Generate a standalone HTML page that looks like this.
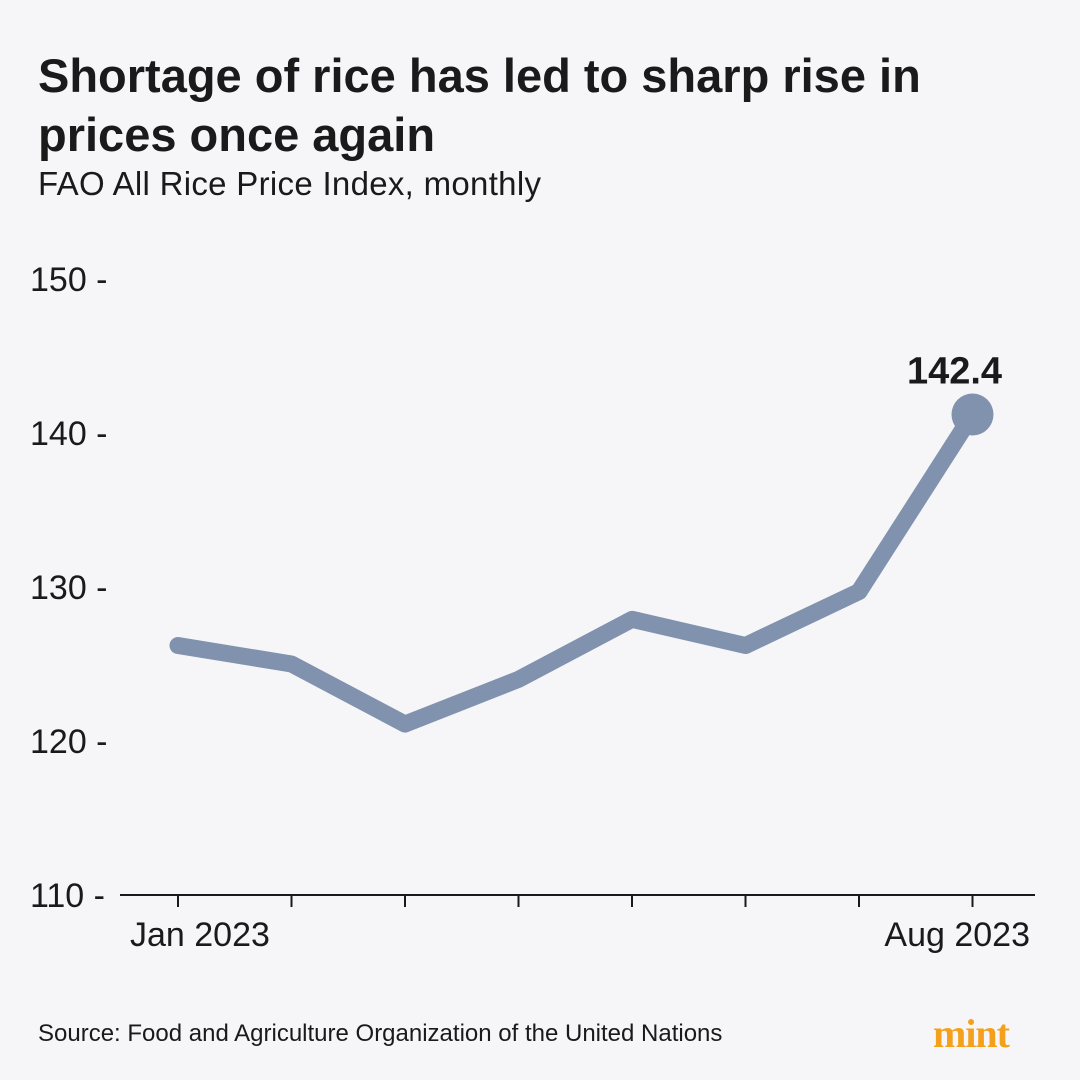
<!DOCTYPE html>
<html><head><meta charset="utf-8"><style>
body{margin:0;width:1080px;height:1080px;background:#f6f6f8;font-family:"Liberation Sans",sans-serif;overflow:hidden;position:relative;color:#1a1a1a}
.t{position:absolute;left:38px;top:46px;font-size:47px;font-weight:bold;line-height:59px;letter-spacing:0px}
.s{position:absolute;left:38px;top:165px;font-size:33px;letter-spacing:0.3px}
.src{position:absolute;left:38px;top:1020px;font-size:24px}
.logo{position:absolute;left:933px;top:1010px;font-size:40px;font-weight:bold;color:#f5a01a;font-family:"Liberation Serif",serif;letter-spacing:-1px}
</style></head><body>
<div class="t">Shortage of rice has led to sharp rise in<br>prices once again</div>
<div class="s">FAO All Rice Price Index, monthly</div>
<svg id="c" width="1080" height="1080" style="position:absolute;left:0;top:0"></svg>
<div class="src">Source: Food and Agriculture Organization of the United Nations</div>
<div class="logo">mint</div>
<script>
const months=["Jan 2023","Feb","Mar","Apr","May","Jun","Jul","Aug 2023"];
const values=[126.2,125.0,121.1,124.0,127.9,126.2,129.7,141.2];
const yTicks=[110,120,130,140,150];
const xLabelIdx=[0,7];
const lastLabel=["142.4"];
const NS="http://www.w3.org/2000/svg",svg=document.getElementById('c');
const x=i=>178+i*113.5, y=v=>895-(v-110)*15.4;
function mk(t,a){const e=document.createElementNS(NS,t);for(const k in a)e.setAttribute(k,a[k]);svg.appendChild(e);return e;}
yTicks.forEach(v=>{const e=mk('text',{x:30,y:y(v)+12,'font-size':34,fill:'#1a1a1a'});e.textContent=v+' -';

});
const ax=mk('line',{x1:120,x2:1035,y1:895,y2:895,stroke:'#1a1a1a','stroke-width':2});


months.forEach((m,i)=>{const t=mk('line',{x1:x(i),x2:x(i),y1:895,y2:907,stroke:'#1a1a1a','stroke-width':2});

});
xLabelIdx.forEach((i,k)=>{const e=mk('text',{x:k===0?130:1030,y:946,'font-size':34,'text-anchor':k===0?'start':'end',fill:'#1a1a1a'});e.textContent=months[i];

});
const p=mk('polyline',{points:values.map((v,i)=>x(i)+','+y(v)).join(' '),fill:'none',stroke:'#8092ae','stroke-width':17,'stroke-linejoin':'round','stroke-linecap':'round'});


const n=values.length-1;
const c=mk('circle',{cx:x(n),cy:y(values[n]),r:21,fill:'#8092ae'});


const l=mk('text',{x:x(n)-18,y:y(values[n])-31,'font-size':38,'font-weight':'bold','text-anchor':'middle',fill:'#1a1a1a'});l.textContent=lastLabel[0];


</script>
</body></html>
